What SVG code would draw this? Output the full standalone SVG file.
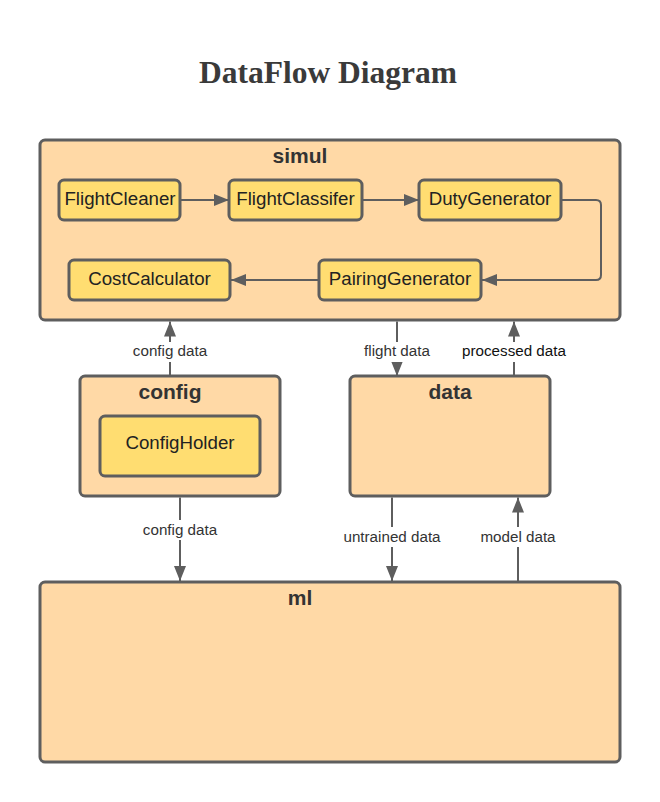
<svg xmlns="http://www.w3.org/2000/svg" width="660" height="802" viewBox="0 0 660 802">
<style>
.outer{fill:#ffd9a6;stroke:#5e5e5e;stroke-width:3}
.inner{fill:#ffdd71;stroke:#5e5e5e;stroke-width:3}
.conn{fill:none;stroke:#5e5e5e;stroke-width:2}
.ntxt{font-family:"Liberation Sans",Arial,sans-serif;font-size:18.7px;fill:#222;text-anchor:middle}
.gtxt{font-family:"Liberation Sans",Arial,sans-serif;font-size:21px;font-weight:bold;fill:#333;text-anchor:middle}
.ltxt{font-family:"Liberation Sans",Arial,sans-serif;font-size:15.2px;fill:#333;text-anchor:middle}
.lbg{fill:#ffffff}
.title{font-family:"Liberation Serif","Times New Roman",serif;font-size:31.5px;font-weight:bold;fill:#3a3a3a;text-anchor:middle}
</style>
<defs>
<marker id="arr" viewBox="0 0 15 12" refX="15" refY="6" markerWidth="15" markerHeight="12" markerUnits="userSpaceOnUse" orient="auto">
<path d="M0,0 L15,6 L0,12 Z" fill="#5e5e5e"/>
</marker>
</defs>
<rect width="660" height="802" fill="#ffffff"/>
<text class="title" x="328" y="83">DataFlow Diagram</text>

<g id="simul">
<rect class="outer" x="40" y="140" width="580" height="180" rx="5"/>
<text class="gtxt" x="300" y="163">simul</text>
</g>
<g id="config">
<rect class="outer" x="80" y="376" width="200" height="120" rx="5"/>
<text class="gtxt" x="170" y="399">config</text>
</g>
<g id="data">
<rect class="outer" x="350" y="376" width="200" height="120" rx="5"/>
<text class="gtxt" x="450" y="399">data</text>
</g>
<g id="ml">
<rect class="outer" x="40" y="582" width="580" height="180" rx="5"/>
<text class="gtxt" x="300" y="605">ml</text>
</g>

<g id="FlightCleaner">
<rect class="inner" x="59" y="180" width="121" height="40" rx="5"/>
<text class="ntxt" x="120" y="205">FlightCleaner</text>
</g>
<g id="FlightClassifer">
<rect class="inner" x="229" y="180" width="133" height="40" rx="5"/>
<text class="ntxt" x="295.5" y="205">FlightClassifer</text>
</g>
<g id="DutyGenerator">
<rect class="inner" x="419" y="180" width="142" height="40" rx="5"/>
<text class="ntxt" x="490" y="205">DutyGenerator</text>
</g>
<g id="PairingGenerator">
<rect class="inner" x="319" y="260" width="162" height="40" rx="5"/>
<text class="ntxt" x="400" y="285">PairingGenerator</text>
</g>
<g id="CostCalculator">
<rect class="inner" x="69" y="260" width="161" height="40" rx="5"/>
<text class="ntxt" x="149.5" y="285">CostCalculator</text>
</g>
<g id="ConfigHolder">
<rect class="inner" x="100" y="416" width="160" height="60" rx="5"/>
<text class="ntxt" x="180" y="449">ConfigHolder</text>
</g>

<g id="connectors">
<path class="conn" d="M181,200 L229,200" marker-end="url(#arr)"/>
<path class="conn" d="M363,200 L419,200" marker-end="url(#arr)"/>
<path class="conn" d="M562,200 L596,200 Q601,200 601,205 L601,275 Q601,280 596,280 L482,280" marker-end="url(#arr)"/>
<path class="conn" d="M318,280 L231,280" marker-end="url(#arr)"/>

<path class="conn" d="M170,376 L170,321.5" marker-end="url(#arr)"/>
<rect class="lbg" x="128" y="342" width="84" height="20"/>
<text class="ltxt" x="170" y="356">config data</text>

<path class="conn" d="M397,321.5 L397,376" marker-end="url(#arr)"/>
<rect class="lbg" x="358" y="342" width="78" height="20"/>
<text class="ltxt" x="397" y="356">flight data</text>

<path class="conn" d="M514,376 L514,321.5" marker-end="url(#arr)"/>
<rect class="lbg" x="461" y="342" width="106" height="20"/>
<text class="ltxt" x="514" y="356" style="fill:#111">processed data</text>

<path class="conn" d="M180,497.5 L180,581" marker-end="url(#arr)"/>
<rect class="lbg" x="138" y="520" width="84" height="20"/>
<text class="ltxt" x="180" y="535">config data</text>

<path class="conn" d="M392,497.5 L392,581" marker-end="url(#arr)"/>
<rect class="lbg" x="338" y="527" width="108" height="20"/>
<text class="ltxt" x="392" y="542">untrained data</text>

<path class="conn" d="M518,581 L518,497.5" marker-end="url(#arr)"/>
<rect class="lbg" x="476" y="527" width="84" height="20"/>
<text class="ltxt" x="518" y="542">model data</text>
</g>
</svg>
